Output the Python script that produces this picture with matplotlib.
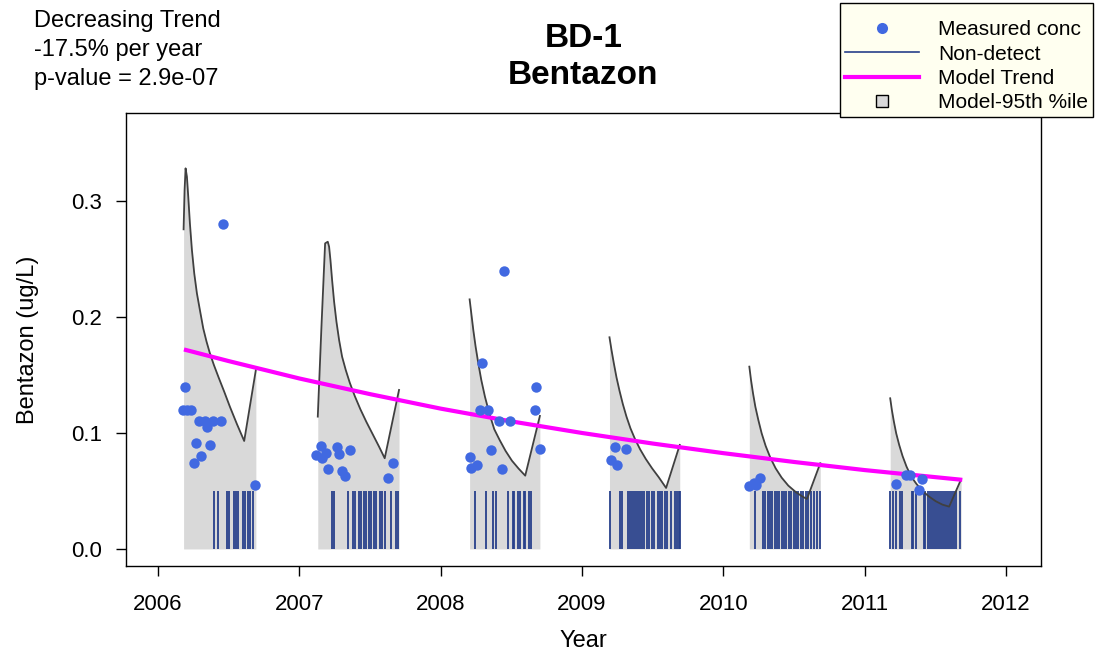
import numpy as np
import matplotlib
matplotlib.use("Agg")
import matplotlib.pyplot as plt
from matplotlib.lines import Line2D

plt.rcParams['font.family'] = ['Liberation Sans', 'DejaVu Sans']

# measured concentrations (decimal year, ug/L)
meas_t = [2006.459, 2006.193, 2006.179, 2006.203, 2006.231, 2006.292, 2006.332, 2006.387,
          2006.445, 2006.344, 2006.269, 2006.370, 2006.306, 2006.254, 2006.690,
          2007.154, 2007.265, 2007.357, 2007.192, 2007.281, 2007.121, 2007.164, 2007.204,
          2007.305, 2007.322, 2007.666, 2007.628,
          2008.447, 2008.295, 2008.278, 2008.334, 2008.410, 2008.488, 2008.678, 2008.664,
          2008.702, 2008.356, 2008.205, 2008.217, 2008.259, 2008.433,
          2009.235, 2009.310, 2009.208, 2009.246,
          2010.184, 2010.219, 2010.232, 2010.259,
          2011.220, 2011.291, 2011.319, 2011.408, 2011.387]
meas_v = [0.280, 0.140, 0.120, 0.120, 0.120, 0.110, 0.110, 0.110,
          0.110, 0.105, 0.091, 0.090, 0.080, 0.074, 0.055,
          0.089, 0.088, 0.085, 0.083, 0.082, 0.081, 0.078, 0.069,
          0.067, 0.063, 0.074, 0.061,
          0.240, 0.160, 0.120, 0.120, 0.110, 0.110, 0.140, 0.120,
          0.086, 0.085, 0.079, 0.070, 0.072, 0.069,
          0.088, 0.086, 0.077, 0.072,
          0.054, 0.057, 0.055, 0.061,
          0.056, 0.064, 0.064, 0.060, 0.051]

# non-detects (decimal year), plotted up to the reporting limit
nd_limit = 0.05
nd_t = [2006.398, 2006.422, 2006.486, 2006.500, 2006.535, 2006.551, 2006.565, 2006.599,
        2006.613, 2006.636, 2006.650, 2006.669,
        2007.228, 2007.242, 2007.343, 2007.383, 2007.397, 2007.420, 2007.435, 2007.461,
        2007.475, 2007.496, 2007.510, 2007.531, 2007.546, 2007.574, 2007.588, 2007.606,
        2007.649, 2007.687, 2007.701,
        2008.240, 2008.318, 2008.370, 2008.394, 2008.473, 2008.509, 2008.521, 2008.549,
        2008.563, 2008.587, 2008.599, 2008.624, 2008.638,
        2009.197, 2009.272, 2009.286, 2009.326, 2009.341, 2009.355, 2009.369, 2009.383,
        2009.397, 2009.411, 2009.425, 2009.440, 2009.463, 2009.477, 2009.496, 2009.510,
        2009.539, 2009.553, 2009.567, 2009.585, 2009.602, 2009.628, 2009.656, 2009.670,
        2009.684, 2009.696,
        2010.226, 2010.283, 2010.297, 2010.313, 2010.330, 2010.346, 2010.363, 2010.380,
        2010.396, 2010.412, 2010.429, 2010.445, 2010.461, 2010.480, 2010.497, 2010.514,
        2010.530, 2010.546, 2010.565, 2010.582, 2010.599, 2010.622, 2010.641, 2010.664,
        2010.683,
        2011.180, 2011.201, 2011.220, 2011.246, 2011.267, 2011.331, 2011.345, 2011.362,
        2011.416, 2011.428, 2011.447, 2011.461, 2011.475, 2011.489, 2011.503, 2011.517,
        2011.531, 2011.545, 2011.559, 2011.573, 2011.587, 2011.602, 2011.618, 2011.634,
        2011.648, 2011.673]

# model 95th percentile, one curve per season
p95_t = [
    [2006.1814, 2006.1885, 2006.1955, 2006.2049, 2006.2144, 2006.2261, 2006.2403, 2006.2568,
     2006.2756, 2006.2968, 2006.3204, 2006.3439, 2006.3675, 2006.3958, 2006.4288, 2006.4688,
     2006.5088, 2006.5583, 2006.6101, 2006.6926],
    [2007.1307, 2007.1567, 2007.1826, 2007.2014, 2007.2108, 2007.2203, 2007.2320, 2007.2462,
     2007.2627, 2007.2815, 2007.3027, 2007.3286, 2007.3569, 2007.3922, 2007.4323, 2007.4747,
     2007.5218, 2007.5642, 2007.6042, 2007.7055],
    [2008.2049, 2008.2167, 2008.2309, 2008.2473, 2008.2662, 2008.2874, 2008.3133, 2008.3440,
     2008.3793, 2008.4170, 2008.4594, 2008.5042, 2008.5512, 2008.5983, 2008.7020],
    [2009.1943, 2009.2085, 2009.2250, 2009.2438, 2009.2650, 2009.2886, 2009.3145, 2009.3428,
     2009.3758, 2009.4111, 2009.4511, 2009.4959, 2009.5430, 2009.5948, 2009.6914],
    [2010.1837, 2010.1955, 2010.2097, 2010.2261, 2010.2473, 2010.2709, 2010.2992, 2010.3322,
     2010.3699, 2010.4123, 2010.4594, 2010.5136, 2010.5607, 2010.5914, 2010.6855],
    [2011.1802, 2011.1920, 2011.2062, 2011.2226, 2011.2438, 2011.2674, 2011.2957, 2011.3286,
     2011.3663, 2011.4087, 2011.4558, 2011.5030, 2011.5501, 2011.5972, 2011.6820],
]
p95_v = [
    [0.2756, 0.3095, 0.3282, 0.3210, 0.3037, 0.2807, 0.2578, 0.2376,
     0.2204, 0.2060, 0.1902, 0.1787, 0.1687, 0.1586, 0.1480, 0.1356,
     0.1227, 0.1078, 0.0931, 0.1543],
    [0.1141, 0.1917, 0.2635, 0.2649, 0.2606, 0.2491, 0.2319, 0.2132,
     0.1960, 0.1802, 0.1658, 0.1543, 0.1434, 0.1319, 0.1204, 0.1095,
     0.0983, 0.0882, 0.0782, 0.1371],
    [0.2152, 0.2032, 0.1888, 0.1744, 0.1601, 0.1457, 0.1313, 0.1170,
     0.1032, 0.0940, 0.0845, 0.0761, 0.0693, 0.0632, 0.1147],
    [0.1825, 0.1716, 0.1601, 0.1480, 0.1365, 0.1250, 0.1141, 0.1040,
     0.0945, 0.0859, 0.0776, 0.0695, 0.0618, 0.0526, 0.0897],
    [0.1572, 0.1457, 0.1342, 0.1227, 0.1112, 0.0997, 0.0888, 0.0787,
     0.0695, 0.0615, 0.0546, 0.0489, 0.0451, 0.0431, 0.0739],
    [0.1299, 0.1198, 0.1098, 0.0997, 0.0897, 0.0802, 0.0710, 0.0624,
     0.0560, 0.0500, 0.0451, 0.0411, 0.0382, 0.0365, 0.0601],
]

# model trend
trend_t = [2006.184, 2006.5, 2007.0, 2007.5, 2008.0, 2008.5, 2009.0, 2009.5,
           2010.0, 2010.5, 2011.0, 2011.5, 2011.69]
trend_v = [0.172, 0.162, 0.147, 0.1335, 0.121, 0.110, 0.100, 0.0909,
           0.0826, 0.075, 0.068, 0.0619, 0.0596]

x_ticks = [2006, 2007, 2008, 2009, 2010, 2011, 2012]
y_ticks = [0.0, 0.1, 0.2, 0.3]

fig = plt.figure(figsize=(10.96, 6.54), dpi=100)
ax = fig.add_axes([126 / 1096, 88 / 654, 915 / 1096, 453 / 654])

for t, v in zip(p95_t, p95_v):
    ax.fill_between(t, 0, v, color='#d9d9d9', lw=0, zorder=1)
ax.vlines(nd_t, 0, nd_limit, color='#27408B', lw=1.3, zorder=2)
for t, v in zip(p95_t, p95_v):
    ax.plot(t, v, color='#404040', lw=1.3, zorder=3)
ax.plot(trend_t, trend_v, color='#FF00FF', lw=3, zorder=4, solid_capstyle='butt')
ax.plot(meas_t, meas_v, 'o', color='#4169E1', ms=7.5, mec='none', zorder=5)

ax.set_xlim(2005.774, 2012.247)
ax.set_ylim(-0.0147, 0.3759)
ax.set_xticks(x_ticks)
ax.set_yticks(y_ticks)
ax.set_yticklabels([f'{y:.1f}' for y in y_ticks])
ax.tick_params(direction='out', length=7, width=1, labelsize=16, colors='black')
ax.tick_params(axis='x', pad=13)
ax.tick_params(axis='y', pad=10)
for s in ax.spines.values():
    s.set_linewidth(1.0)
ax.set_xlabel('Year', fontsize=17, labelpad=11)
ax.set_ylabel('Bentazon (ug/L)', fontsize=17, labelpad=23)

fig.text(583.5 / 1096, 1 - 23 / 654, 'BD-1\nBentazon', ha='center', va='top',
         fontsize=24, fontweight='bold', linespacing=1.25)
fig.text(34 / 1096, 1 - 10 / 654, 'Decreasing Trend\n-17.5% per year\np-value = 2.9e-07',
         ha='left', va='top', fontsize=17, linespacing=1.4)

handles = [
    Line2D([], [], ls='none', marker='o', color='#4169E1', ms=8, mec='none'),
    Line2D([], [], color='#27408B', lw=1.2),
    Line2D([], [], color='#FF00FF', lw=3),
    Line2D([], [], ls='none', marker='s', mfc='#d9d9d9', mec='black', ms=9, mew=1),
]
labels = ['Measured conc', 'Non-detect', 'Model Trend', 'Model-95th %ile']
leg = fig.legend(handles, labels, loc='upper right', bbox_to_anchor=(1093 / 1096, 651 / 654),
                 fontsize=15, frameon=True, fancybox=False, facecolor='#FFFFF0',
                 edgecolor='black', framealpha=1, handlelength=3.55, handletextpad=0.9,
                 labelspacing=0.25, borderpad=0.25, borderaxespad=0,
                 title=' ', title_fontsize=6)
leg.get_frame().set_linewidth(1.0)

fig.savefig('out.png', dpi=100)
